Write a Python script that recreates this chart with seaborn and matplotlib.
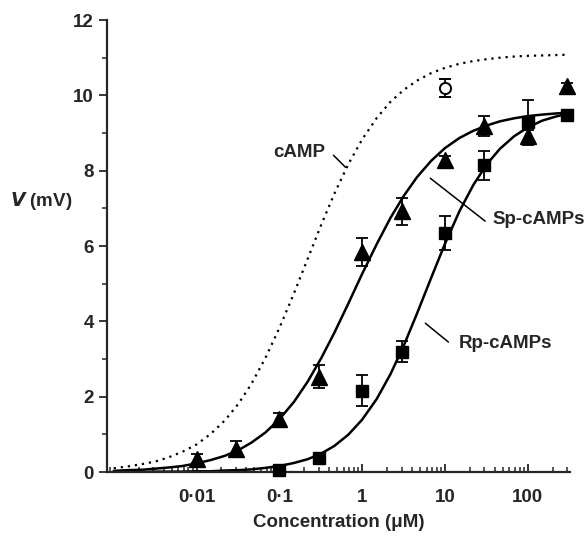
import matplotlib
matplotlib.use("Agg")
import matplotlib.pyplot as plt
import matplotlib.ticker as mticker
import numpy as np
import pandas as pd
import seaborn as sns

# fitted curves at ~6 points per decade
conc = [0.001, 0.0015, 0.0022, 0.0032, 0.0046, 0.0068,
        0.01, 0.015, 0.022, 0.032, 0.046, 0.068,
        0.1, 0.15, 0.22, 0.32, 0.46, 0.68,
        1, 1.5, 2.2, 3.2, 4.6, 6.8,
        10, 15, 22, 32, 46, 68,
        100, 150, 220, 300]
camp_fit = [0.10, 0.15, 0.21, 0.28, 0.39, 0.54, 0.73, 1.02, 1.37, 1.81, 2.34, 3.03,
            3.82, 4.74, 5.66, 6.56, 7.38, 8.17, 8.83, 9.40, 9.83, 10.15, 10.39, 10.59,
            10.73, 10.84, 10.91, 10.96, 11.00, 11.03, 11.05, 11.06, 11.07, 11.08]
sp_fit = [0.03, 0.05, 0.06, 0.09, 0.12, 0.16, 0.23, 0.32, 0.43, 0.58, 0.78, 1.05,
          1.40, 1.86, 2.40, 3.02, 3.69, 4.47, 5.26, 6.05, 6.75, 7.34, 7.83, 8.26,
          8.60, 8.87, 9.06, 9.20, 9.31, 9.39, 9.45, 9.49, 9.52, 9.54]
rp_fit = [0.00, 0.00, 0.00, 0.01, 0.01, 0.01, 0.02, 0.02, 0.04, 0.05, 0.07, 0.11,
          0.16, 0.24, 0.34, 0.49, 0.69, 0.99, 1.39, 1.94, 2.60, 3.37, 4.21, 5.15,
          6.06, 6.93, 7.62, 8.17, 8.58, 8.91, 9.15, 9.33, 9.44, 9.51]

# measured points (mean +/- s.e.m.)
sp_x = [0.01, 0.03, 0.1, 0.3, 1, 3, 10, 30, 100, 300]
sp_y = [0.35, 0.62, 1.40, 2.53, 5.84, 6.92, 8.28, 9.18, 8.92, 10.24]
sp_err = [0.12, 0.20, 0.17, 0.30, 0.38, 0.35, 0.12, 0.27, 0.15, 0.10]
rp_x = [0.1, 0.3, 1, 3, 10, 30, 100, 300]
rp_y = [0.05, 0.36, 2.16, 3.19, 6.35, 8.14, 9.29, 9.47]
rp_err = [0.05, 0.10, 0.42, 0.28, 0.45, 0.38, 0.60, 0.10]
camp_x = [10]
camp_y = [10.2]
camp_err = [0.24]

sns.set_style("ticks")
plt.rcParams['font.family'] = ['Liberation Sans', 'DejaVu Sans']
plt.rcParams['font.weight'] = 'bold'
plt.rcParams['axes.labelweight'] = 'bold'
fs = 13.5

fig = plt.figure(figsize=(5.86, 5.4), dpi=100)
ax = fig.add_axes([0.1826, 0.1259, 0.79, 0.837])

fits = pd.DataFrame({'conc': conc, 'cAMP': camp_fit, 'Sp': sp_fit, 'Rp': rp_fit})
sns.lineplot(data=fits, x='conc', y='cAMP', ax=ax, color='black', lw=1.6,
             linestyle=(0, (1, 2.2)))
sns.lineplot(data=fits, x='conc', y='Sp', ax=ax, color='black', lw=1.8)
sns.lineplot(data=fits, x='conc', y='Rp', ax=ax, color='black', lw=1.8)

eb_kw = dict(color='black', capsize=4, elinewidth=1.3, capthick=1.3, zorder=5)
for c in [
    ax.errorbar(sp_x, sp_y, yerr=sp_err, fmt='^', ms=11, **eb_kw),
    ax.errorbar(rp_x, rp_y, yerr=rp_err, fmt='s', ms=8.5, **eb_kw),
    ax.errorbar(camp_x, camp_y, yerr=camp_err, fmt='o', mfc='white', mew=1.4,
                ms=8, **eb_kw),
]:
    for art in c.get_children():
        art.set_clip_on(False)

ax.set_xscale('log')
ax.set_xlim(0.00083, 323)
ax.set_ylim(0, 12)
ax.set_yticks(range(0, 13, 2))
ax.yaxis.set_minor_locator(mticker.MultipleLocator(1))
ax.set_xticks([0.01, 0.1, 1, 10, 100])
ax.set_xticklabels(['0·01', '0·1', '1', '10', '100'])
ax.xaxis.set_minor_locator(mticker.LogLocator(base=10, subs=np.arange(2, 10)))
ax.xaxis.set_minor_formatter(mticker.NullFormatter())
ax.tick_params(axis='x', which='major', direction='in', length=6, width=1.3,
               labelsize=fs, pad=12)
ax.tick_params(axis='x', which='minor', direction='in', length=3.5, width=1.1)
ax.tick_params(axis='y', which='major', direction='out', length=6, width=1.3,
               labelsize=fs)
ax.tick_params(axis='y', which='minor', direction='out', length=3.5, width=1.1)
sns.despine(ax=ax)
for s in ['left', 'bottom']:
    ax.spines[s].set_linewidth(1.6)

ax.set_xlabel('Concentration (μM)', fontsize=fs, labelpad=6)
ax.set_ylabel('')
fig.text(0.017, 0.627, '$\\mathbf{\\mathit{V}}$ (mV)', fontsize=fs, va='center', ha='left')

# curve labels with leader lines
ax.text(0.36, 8.49, 'cAMP', fontsize=fs, ha='right', va='center')
ax.plot([0.45, 0.63], [8.41, 8.09], color='black', lw=1.1)
ax.text(38, 6.7, 'Sp-cAMPs', fontsize=fs, ha='left', va='center')
ax.plot([6.65, 30.6], [7.8, 6.66], color='black', lw=1.1)
ax.text(14.5, 3.4, 'Rp-cAMPs', fontsize=fs, ha='left', va='center')
ax.plot([5.8, 11], [3.95, 3.45], color='black', lw=1.1)

fig.savefig('out.png', dpi=100)
